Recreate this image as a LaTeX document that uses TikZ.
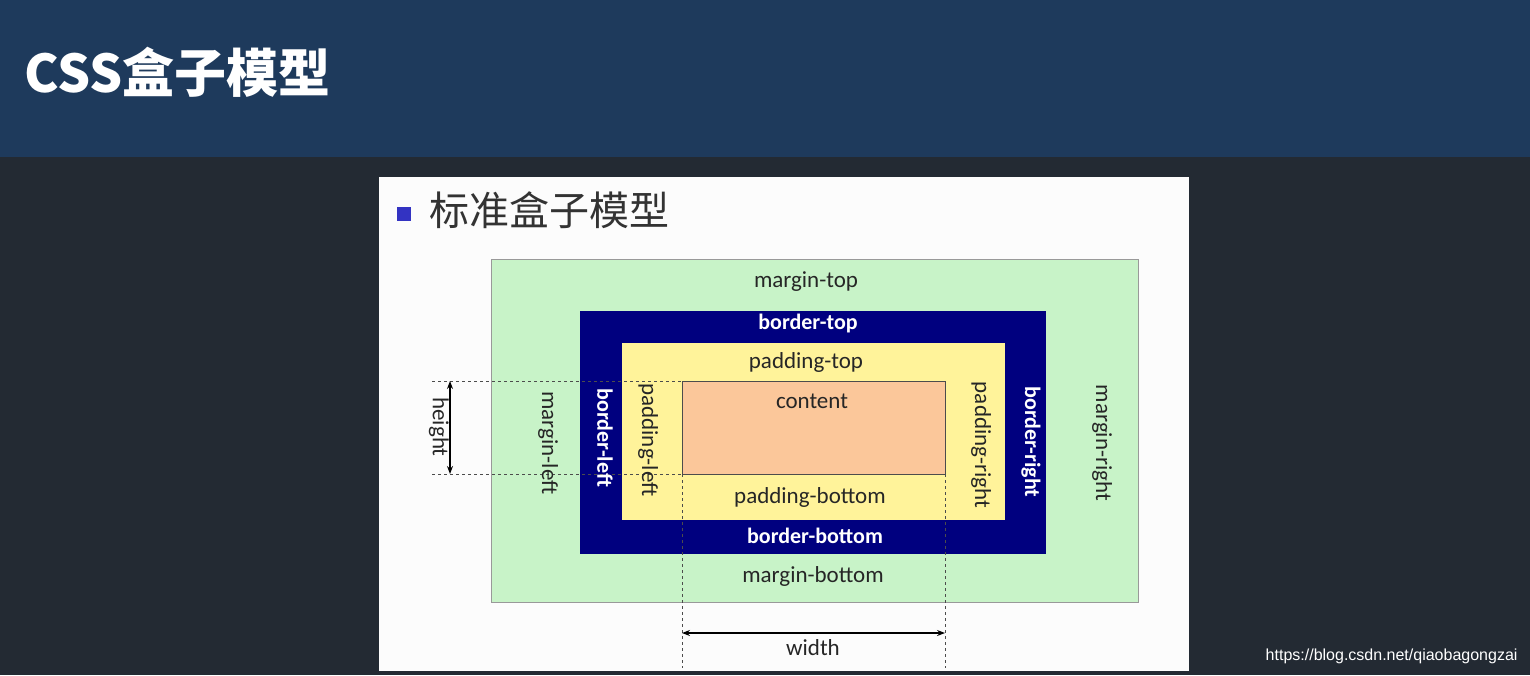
\documentclass[tikz,border=0pt]{standalone}
\usepackage{fontspec}
\setmainfont{Carlito}
\newfontfamily\cjk{Noto Sans CJK SC}
\newfontfamily\wm{Liberation Sans}
\usetikzlibrary{arrows.meta}
\definecolor{band}{HTML}{1E3A5C}
\definecolor{bgdark}{HTML}{232A33}
\definecolor{mgreen}{HTML}{C8F3C8}
\definecolor{bnavy}{HTML}{00007F}
\definecolor{pyellow}{HTML}{FFF39A}
\definecolor{corange}{HTML}{FBC79A}
\tikzset{
 lbl/.style={font=\fontsize{23}{25}\selectfont, text=black!85},
 wlbl/.style={font=\bfseries\fontsize{22}{24}\selectfont, text=white},
 dim/.style={dashed, black!70, thin},
 arr/.style={{Stealth[length=8pt]}-{Stealth[length=8pt]}, black, line width=1.2pt}
}
\begin{document}
\begin{tikzpicture}[x=1pt,y=-1pt]
\useasboundingbox (0,0) rectangle (1530,675);
\fill[bgdark] (0,0) rectangle (1530,675);
\fill[band] (0,0) rectangle (1530,157);
\node[anchor=west, text=white, font=\cjk\bfseries\fontsize{52}{56}\selectfont] (title) at (21,72) {CSS盒子模型};
\fill[white!98!gray] (379,177) rectangle (1189,671);
\fill[blue!70!black!80] (397,207) rectangle (411,221);
\node[anchor=west, text=black!80, font=\cjk\fontsize{40}{44}\selectfont] (sub) at (426,210) {标准盒子模型};
% boxes
\draw[gray!80, fill=mgreen] (491,259) rectangle (1138,602);
\fill[bnavy] (580,311) rectangle (1046,554);
\fill[pyellow] (622,343) rectangle (1005,520);
\draw[black!70, fill=corange] (682,381) rectangle (945,474);
% dashed lines
\coordinate (h1) at (432,381); \coordinate (h1e) at (682,381);
\coordinate (h2) at (432,474); \coordinate (h2e) at (682,474);
\coordinate (v1) at (682,668); \coordinate (v2) at (945,668); \coordinate (v2s) at (945,474);
\draw[dim] (h1) -- (h1e);
\draw[dim] (h2) -- (h2e);
\draw[dim] (h2e) -- (v1);
\draw[dim] (v2s) -- (v2);
\coordinate (ha) at (450,381); \coordinate (hb) at (450,474);
\draw[arr] (ha) -- (hb);
\coordinate (wa) at (682,633); \coordinate (wb) at (945,633);
\draw[arr] (wa) -- (wb);
\node[lbl, rotate=-90] (hl) at (439,427) {height};
\node[lbl] (wl) at (813,648) {width};
% labels
\node[lbl] (mt) at (806,282) {margin-top};
\node[wlbl] (bt) at (808,324) {border-top};
\node[lbl] (pt) at (806,362) {padding-top};
\node[lbl] (ct) at (812,401) {content};
\node[lbl] (pb) at (810,497) {padding-bottom};
\node[wlbl] (bb) at (815,536) {border-bottom};
\node[lbl] (mb) at (813,576) {margin-bottom};
\node[lbl, rotate=-90] (ml) at (548,443) {margin-left};
\node[wlbl, rotate=-90] (bl) at (605,438) {border-left};
\node[lbl, rotate=-90] (pl) at (648,440) {padding-left};
\node[lbl, rotate=-90] (pr) at (981,445) {padding-right};
\node[wlbl, rotate=-90] (br) at (1031,442) {border-right};
\node[lbl, rotate=-90] (mr) at (1102,443) {margin-right};
\node[anchor=east, text=white!75, font=\wm\fontsize{16}{18}\selectfont] (url) at (1521,656) {https://blog.csdn.net/qiaobagongzai};
\end{tikzpicture}
\end{document}
